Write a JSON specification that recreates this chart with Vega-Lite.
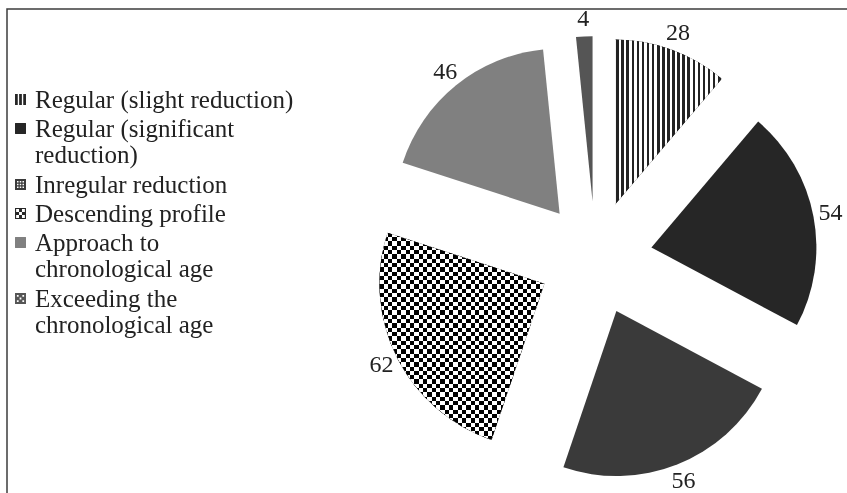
{
  "$schema": "https://vega.github.io/schema/vega-lite/v6.json",
  "width": 860,
  "height": 504,
  "autosize": {"type": "none"},
  "padding": {"left": 7, "top": 9, "right": -20, "bottom": -20},
  "background": "white",
  "config": {
    "view": {"stroke": "#3c3c3c", "strokeWidth": 1.5},
    "text": {"font": "Liberation Serif"}
  },
  "data": {
    "values": [
      {"order": 1, "category": "Regular (slight reduction)", "value": 28},
      {"order": 2, "category": "Regular (significant reduction)", "value": 54},
      {"order": 3, "category": "Inregular reduction", "value": 56},
      {"order": 4, "category": "Descending profile", "value": 62},
      {"order": 5, "category": "Approach to chronological age", "value": 46},
      {"order": 6, "category": "Exceeding the chronological age", "value": 4}
    ]
  },
  "transform": [
    {"joinaggregate": [{"op": "sum", "field": "value", "as": "total"}]},
    {"window": [{"op": "sum", "field": "value", "as": "cum"}], "sort": [{"field": "order"}], "frame": [null, 0]},
    {"calculate": "(datum.cum - datum.value) / datum.total", "as": "start"},
    {"calculate": "datum.cum / datum.total", "as": "end"},
    {"calculate": "PI * (datum.start + datum.end)", "as": "mid"},
    {"calculate": "sin(datum.mid)", "as": "ex"},
    {"calculate": "cos(datum.mid)", "as": "ey"},
    {"calculate": "4.2 * datum.ex", "as": "lx"},
    {"calculate": "4.2 * datum.ey", "as": "ly"}
  ],
  "layer": [
    {
      "mark": {"type": "arc", "radius": 165},
      "encoding": {
        "x": {"field": "ex", "type": "quantitative", "scale": {"domain": [-1, 1], "range": [531.4, 645.4], "nice": false, "zero": false}, "axis": null},
        "y": {"field": "ey", "type": "quantitative", "scale": {"domain": [-1, 1], "range": [306.1, 192.1], "nice": false, "zero": false}, "axis": null},
        "theta": {"field": "start", "type": "quantitative", "scale": {"domain": [0, 1]}, "stack": null},
        "theta2": {"field": "end"},
        "color": {
          "field": "category",
          "type": "nominal",
          "scale": {
            "domain": ["Regular (slight reduction)", "Regular (significant reduction)", "Inregular reduction", "Descending profile", "Approach to chronological age", "Exceeding the chronological age"],
            "range": ["#262626", "#262626", "#3a3a3a", "#262626", "#808080", "#555555"]
          },
          "legend": {
            "title": null,
            "orient": "none",
            "legendX": 1,
            "legendY": 78,
            "padding": 0,
            "labelFont": "Liberation Serif",
            "labelFontSize": 25,
            "labelColor": "#222222",
            "labelLimit": 0,
            "labelOffset": 2,
            "symbolSize": 120,
            "symbolStrokeWidth": 0,
            "rowPadding": 3,
            "labelExpr": "datum.label === 'Regular (significant reduction)' ? ['Regular (significant', 'reduction)'] : datum.label === 'Approach to chronological age' ? ['Approach to', 'chronological age'] : datum.label === 'Exceeding the chronological age' ? ['Exceeding the', 'chronological age'] : datum.label",
            "encode": {
              "labels": {"update": {"lineHeight": {"value": 26.7}}},
              "symbols": {
                "update": {
                  "shape": {"signal": "datum.value === 'Regular (slight reduction)' ? 'M-1,-1H-0.5V1H-1Z M-0.25,-1H0.25V1H-0.25Z M0.5,-1H1V1H0.5Z' : datum.value === 'Inregular reduction' ? 'M-1,-1H1V1H-1Z M-0.64,-0.64V-0.36H-0.36V-0.64Z M-0.14,-0.64V-0.36H0.14V-0.64Z M0.36,-0.64V-0.36H0.64V-0.64Z M-0.64,-0.14V0.14H-0.36V-0.14Z M-0.14,-0.14V0.14H0.14V-0.14Z M0.36,-0.14V0.14H0.64V-0.14Z M-0.64,0.36V0.64H-0.36V0.36Z M-0.14,0.36V0.64H0.14V0.36Z M0.36,0.36V0.64H0.64V0.36Z' : datum.value === 'Descending profile' ? 'M-1,-1H1V1H-1Z M-0.8,-0.8V0.8H0.8V-0.8Z M-0.2667,-0.8H0.2667V-0.2667H-0.2667Z M-0.8,-0.2667H-0.2667V0.2667H-0.8Z M0.2667,-0.2667H0.8V0.2667H0.2667Z M-0.2667,0.2667H0.2667V0.8H-0.2667Z' : datum.value === 'Exceeding the chronological age' ? 'M-1,-1H1V1H-1Z M-0.66,-0.66V-0.34H-0.34V-0.66Z M0.34,-0.66V-0.34H0.66V-0.66Z M-0.16,-0.16V0.16H0.16V-0.16Z M-0.66,0.34V0.66H-0.34V0.34Z M0.34,0.34V0.66H0.66V0.34Z' : 'square'"},
                  "strokeWidth": {"value": 0}
                }
              }
            }
          }
        }
      }
    },
    {
      "transform": [{"filter": {"field": "category", "equal": "Regular (slight reduction)"}}],
      "mark": {
        "type": "arc",
        "radius": 165,
        "fill": {
          "gradient": "linear", "x1": 0, "y1": 0, "x2": 1, "y2": 0,
          "stops": [
            {"offset": 0.0119, "color": "#fff"}, {"offset": 0.0119, "color": "#222"}, {"offset": 0.0357, "color": "#222"}, {"offset": 0.0357, "color": "#fff"},
            {"offset": 0.0595, "color": "#fff"}, {"offset": 0.0595, "color": "#222"}, {"offset": 0.0833, "color": "#222"}, {"offset": 0.0833, "color": "#fff"},
            {"offset": 0.1071, "color": "#fff"}, {"offset": 0.1071, "color": "#222"}, {"offset": 0.131, "color": "#222"}, {"offset": 0.131, "color": "#fff"},
            {"offset": 0.1548, "color": "#fff"}, {"offset": 0.1548, "color": "#222"}, {"offset": 0.1786, "color": "#222"}, {"offset": 0.1786, "color": "#fff"},
            {"offset": 0.2024, "color": "#fff"}, {"offset": 0.2024, "color": "#222"}, {"offset": 0.2262, "color": "#222"}, {"offset": 0.2262, "color": "#fff"},
            {"offset": 0.25, "color": "#fff"}, {"offset": 0.25, "color": "#222"}, {"offset": 0.2738, "color": "#222"}, {"offset": 0.2738, "color": "#fff"},
            {"offset": 0.2976, "color": "#fff"}, {"offset": 0.2976, "color": "#222"}, {"offset": 0.3214, "color": "#222"}, {"offset": 0.3214, "color": "#fff"},
            {"offset": 0.3452, "color": "#fff"}, {"offset": 0.3452, "color": "#222"}, {"offset": 0.369, "color": "#222"}, {"offset": 0.369, "color": "#fff"},
            {"offset": 0.3929, "color": "#fff"}, {"offset": 0.3929, "color": "#222"}, {"offset": 0.4167, "color": "#222"}, {"offset": 0.4167, "color": "#fff"},
            {"offset": 0.4405, "color": "#fff"}, {"offset": 0.4405, "color": "#222"}, {"offset": 0.4643, "color": "#222"}, {"offset": 0.4643, "color": "#fff"},
            {"offset": 0.4881, "color": "#fff"}, {"offset": 0.4881, "color": "#222"}, {"offset": 0.5119, "color": "#222"}, {"offset": 0.5119, "color": "#fff"},
            {"offset": 0.5357, "color": "#fff"}, {"offset": 0.5357, "color": "#222"}, {"offset": 0.5595, "color": "#222"}, {"offset": 0.5595, "color": "#fff"},
            {"offset": 0.5833, "color": "#fff"}, {"offset": 0.5833, "color": "#222"}, {"offset": 0.6071, "color": "#222"}, {"offset": 0.6071, "color": "#fff"},
            {"offset": 0.631, "color": "#fff"}, {"offset": 0.631, "color": "#222"}, {"offset": 0.6548, "color": "#222"}, {"offset": 0.6548, "color": "#fff"},
            {"offset": 0.6786, "color": "#fff"}, {"offset": 0.6786, "color": "#222"}, {"offset": 0.7024, "color": "#222"}, {"offset": 0.7024, "color": "#fff"},
            {"offset": 0.7262, "color": "#fff"}, {"offset": 0.7262, "color": "#222"}, {"offset": 0.75, "color": "#222"}, {"offset": 0.75, "color": "#fff"},
            {"offset": 0.7738, "color": "#fff"}, {"offset": 0.7738, "color": "#222"}, {"offset": 0.7976, "color": "#222"}, {"offset": 0.7976, "color": "#fff"},
            {"offset": 0.8214, "color": "#fff"}, {"offset": 0.8214, "color": "#222"}, {"offset": 0.8452, "color": "#222"}, {"offset": 0.8452, "color": "#fff"},
            {"offset": 0.869, "color": "#fff"}, {"offset": 0.869, "color": "#222"}, {"offset": 0.8929, "color": "#222"}, {"offset": 0.8929, "color": "#fff"},
            {"offset": 0.9167, "color": "#fff"}, {"offset": 0.9167, "color": "#222"}, {"offset": 0.9405, "color": "#222"}, {"offset": 0.9405, "color": "#fff"},
            {"offset": 0.9643, "color": "#fff"}, {"offset": 0.9643, "color": "#222"}, {"offset": 0.9881, "color": "#222"}, {"offset": 0.9881, "color": "#fff"}
          ]
        }
      },
      "encoding": {
        "x": {"field": "ex", "type": "quantitative", "scale": {"domain": [-1, 1], "range": [531.4, 645.4], "nice": false, "zero": false}, "axis": null},
        "y": {"field": "ey", "type": "quantitative", "scale": {"domain": [-1, 1], "range": [306.1, 192.1], "nice": false, "zero": false}, "axis": null},
        "theta": {"field": "start", "type": "quantitative", "scale": {"domain": [0, 1]}, "stack": null},
        "theta2": {"field": "end"}
      }
    },
    {
      "transform": [{"filter": {"field": "category", "equal": "Descending profile"}}],
      "mark": {
        "type": "arc",
        "radius": 165,
        "fill": {
          "gradient": "linear", "x1": 0, "y1": 0, "x2": 1, "y2": 0,
          "stops": [
            {"offset": 0.0263, "color": "#000"}, {"offset": 0.0263, "color": "#fff"}, {"offset": 0.0526, "color": "#fff"}, {"offset": 0.0526, "color": "#000"},
            {"offset": 0.0789, "color": "#000"}, {"offset": 0.0789, "color": "#fff"}, {"offset": 0.1053, "color": "#fff"}, {"offset": 0.1053, "color": "#000"},
            {"offset": 0.1316, "color": "#000"}, {"offset": 0.1316, "color": "#fff"}, {"offset": 0.1579, "color": "#fff"}, {"offset": 0.1579, "color": "#000"},
            {"offset": 0.1842, "color": "#000"}, {"offset": 0.1842, "color": "#fff"}, {"offset": 0.2105, "color": "#fff"}, {"offset": 0.2105, "color": "#000"},
            {"offset": 0.2368, "color": "#000"}, {"offset": 0.2368, "color": "#fff"}, {"offset": 0.2632, "color": "#fff"}, {"offset": 0.2632, "color": "#000"},
            {"offset": 0.2895, "color": "#000"}, {"offset": 0.2895, "color": "#fff"}, {"offset": 0.3158, "color": "#fff"}, {"offset": 0.3158, "color": "#000"},
            {"offset": 0.3421, "color": "#000"}, {"offset": 0.3421, "color": "#fff"}, {"offset": 0.3684, "color": "#fff"}, {"offset": 0.3684, "color": "#000"},
            {"offset": 0.3947, "color": "#000"}, {"offset": 0.3947, "color": "#fff"}, {"offset": 0.4211, "color": "#fff"}, {"offset": 0.4211, "color": "#000"},
            {"offset": 0.4474, "color": "#000"}, {"offset": 0.4474, "color": "#fff"}, {"offset": 0.4737, "color": "#fff"}, {"offset": 0.4737, "color": "#000"},
            {"offset": 0.5, "color": "#000"}, {"offset": 0.5, "color": "#fff"}, {"offset": 0.5263, "color": "#fff"}, {"offset": 0.5263, "color": "#000"},
            {"offset": 0.5526, "color": "#000"}, {"offset": 0.5526, "color": "#fff"}, {"offset": 0.5789, "color": "#fff"}, {"offset": 0.5789, "color": "#000"},
            {"offset": 0.6053, "color": "#000"}, {"offset": 0.6053, "color": "#fff"}, {"offset": 0.6316, "color": "#fff"}, {"offset": 0.6316, "color": "#000"},
            {"offset": 0.6579, "color": "#000"}, {"offset": 0.6579, "color": "#fff"}, {"offset": 0.6842, "color": "#fff"}, {"offset": 0.6842, "color": "#000"},
            {"offset": 0.7105, "color": "#000"}, {"offset": 0.7105, "color": "#fff"}, {"offset": 0.7368, "color": "#fff"}, {"offset": 0.7368, "color": "#000"},
            {"offset": 0.7632, "color": "#000"}, {"offset": 0.7632, "color": "#fff"}, {"offset": 0.7895, "color": "#fff"}, {"offset": 0.7895, "color": "#000"},
            {"offset": 0.8158, "color": "#000"}, {"offset": 0.8158, "color": "#fff"}, {"offset": 0.8421, "color": "#fff"}, {"offset": 0.8421, "color": "#000"},
            {"offset": 0.8684, "color": "#000"}, {"offset": 0.8684, "color": "#fff"}, {"offset": 0.8947, "color": "#fff"}, {"offset": 0.8947, "color": "#000"},
            {"offset": 0.9211, "color": "#000"}, {"offset": 0.9211, "color": "#fff"}, {"offset": 0.9474, "color": "#fff"}, {"offset": 0.9474, "color": "#000"},
            {"offset": 0.9737, "color": "#000"}, {"offset": 0.9737, "color": "#fff"}
          ]
        }
      },
      "encoding": {
        "x": {"field": "ex", "type": "quantitative", "scale": {"domain": [-1, 1], "range": [531.4, 645.4], "nice": false, "zero": false}, "axis": null},
        "y": {"field": "ey", "type": "quantitative", "scale": {"domain": [-1, 1], "range": [306.1, 192.1], "nice": false, "zero": false}, "axis": null},
        "theta": {"field": "start", "type": "quantitative", "scale": {"domain": [0, 1]}, "stack": null},
        "theta2": {"field": "end"}
      }
    },
    {
      "transform": [{"filter": {"field": "category", "equal": "Descending profile"}}],
      "mark": {
        "type": "arc",
        "radius": 165,
        "blend": "difference",
        "fill": {
          "gradient": "linear", "x1": 0, "y1": 0, "x2": 0, "y2": 1,
          "stops": [
            {"offset": 0.0208, "color": "#000"}, {"offset": 0.0208, "color": "#fff"}, {"offset": 0.0417, "color": "#fff"}, {"offset": 0.0417, "color": "#000"},
            {"offset": 0.0625, "color": "#000"}, {"offset": 0.0625, "color": "#fff"}, {"offset": 0.0833, "color": "#fff"}, {"offset": 0.0833, "color": "#000"},
            {"offset": 0.1042, "color": "#000"}, {"offset": 0.1042, "color": "#fff"}, {"offset": 0.125, "color": "#fff"}, {"offset": 0.125, "color": "#000"},
            {"offset": 0.1458, "color": "#000"}, {"offset": 0.1458, "color": "#fff"}, {"offset": 0.1667, "color": "#fff"}, {"offset": 0.1667, "color": "#000"},
            {"offset": 0.1875, "color": "#000"}, {"offset": 0.1875, "color": "#fff"}, {"offset": 0.2083, "color": "#fff"}, {"offset": 0.2083, "color": "#000"},
            {"offset": 0.2292, "color": "#000"}, {"offset": 0.2292, "color": "#fff"}, {"offset": 0.25, "color": "#fff"}, {"offset": 0.25, "color": "#000"},
            {"offset": 0.2708, "color": "#000"}, {"offset": 0.2708, "color": "#fff"}, {"offset": 0.2917, "color": "#fff"}, {"offset": 0.2917, "color": "#000"},
            {"offset": 0.3125, "color": "#000"}, {"offset": 0.3125, "color": "#fff"}, {"offset": 0.3333, "color": "#fff"}, {"offset": 0.3333, "color": "#000"},
            {"offset": 0.3542, "color": "#000"}, {"offset": 0.3542, "color": "#fff"}, {"offset": 0.375, "color": "#fff"}, {"offset": 0.375, "color": "#000"},
            {"offset": 0.3958, "color": "#000"}, {"offset": 0.3958, "color": "#fff"}, {"offset": 0.4167, "color": "#fff"}, {"offset": 0.4167, "color": "#000"},
            {"offset": 0.4375, "color": "#000"}, {"offset": 0.4375, "color": "#fff"}, {"offset": 0.4583, "color": "#fff"}, {"offset": 0.4583, "color": "#000"},
            {"offset": 0.4792, "color": "#000"}, {"offset": 0.4792, "color": "#fff"}, {"offset": 0.5, "color": "#fff"}, {"offset": 0.5, "color": "#000"},
            {"offset": 0.5208, "color": "#000"}, {"offset": 0.5208, "color": "#fff"}, {"offset": 0.5417, "color": "#fff"}, {"offset": 0.5417, "color": "#000"},
            {"offset": 0.5625, "color": "#000"}, {"offset": 0.5625, "color": "#fff"}, {"offset": 0.5833, "color": "#fff"}, {"offset": 0.5833, "color": "#000"},
            {"offset": 0.6042, "color": "#000"}, {"offset": 0.6042, "color": "#fff"}, {"offset": 0.625, "color": "#fff"}, {"offset": 0.625, "color": "#000"},
            {"offset": 0.6458, "color": "#000"}, {"offset": 0.6458, "color": "#fff"}, {"offset": 0.6667, "color": "#fff"}, {"offset": 0.6667, "color": "#000"},
            {"offset": 0.6875, "color": "#000"}, {"offset": 0.6875, "color": "#fff"}, {"offset": 0.7083, "color": "#fff"}, {"offset": 0.7083, "color": "#000"},
            {"offset": 0.7292, "color": "#000"}, {"offset": 0.7292, "color": "#fff"}, {"offset": 0.75, "color": "#fff"}, {"offset": 0.75, "color": "#000"},
            {"offset": 0.7708, "color": "#000"}, {"offset": 0.7708, "color": "#fff"}, {"offset": 0.7917, "color": "#fff"}, {"offset": 0.7917, "color": "#000"},
            {"offset": 0.8125, "color": "#000"}, {"offset": 0.8125, "color": "#fff"}, {"offset": 0.8333, "color": "#fff"}, {"offset": 0.8333, "color": "#000"},
            {"offset": 0.8542, "color": "#000"}, {"offset": 0.8542, "color": "#fff"}, {"offset": 0.875, "color": "#fff"}, {"offset": 0.875, "color": "#000"},
            {"offset": 0.8958, "color": "#000"}, {"offset": 0.8958, "color": "#fff"}, {"offset": 0.9167, "color": "#fff"}, {"offset": 0.9167, "color": "#000"},
            {"offset": 0.9375, "color": "#000"}, {"offset": 0.9375, "color": "#fff"}, {"offset": 0.9583, "color": "#fff"}, {"offset": 0.9583, "color": "#000"},
            {"offset": 0.9792, "color": "#000"}, {"offset": 0.9792, "color": "#fff"}
          ]
        }
      },
      "encoding": {
        "x": {"field": "ex", "type": "quantitative", "scale": {"domain": [-1, 1], "range": [531.4, 645.4], "nice": false, "zero": false}, "axis": null},
        "y": {"field": "ey", "type": "quantitative", "scale": {"domain": [-1, 1], "range": [306.1, 192.1], "nice": false, "zero": false}, "axis": null},
        "theta": {"field": "start", "type": "quantitative", "scale": {"domain": [0, 1]}, "stack": null},
        "theta2": {"field": "end"}
      }
    },
    {
      "mark": {"type": "text", "font": "Liberation Serif", "fontSize": 24, "color": "#222222", "align": "center", "baseline": "middle"},
      "encoding": {
        "x": {"field": "lx", "type": "quantitative", "scale": {"domain": [-1, 1], "range": [531.4, 645.4], "nice": false, "zero": false}, "axis": null},
        "y": {"field": "ly", "type": "quantitative", "scale": {"domain": [-1, 1], "range": [306.1, 192.1], "nice": false, "zero": false}, "axis": null},
        "text": {"field": "value", "type": "quantitative"}
      }
    }
  ]
}
